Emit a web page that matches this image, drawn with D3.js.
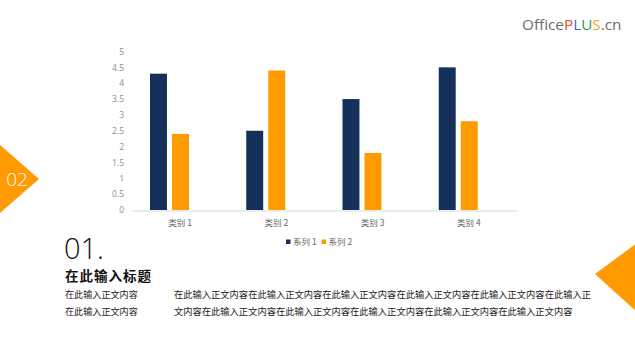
<!DOCTYPE html>
<html><head><meta charset="utf-8">
<script src="https://cdn.jsdelivr.net/npm/d3@7"></script>
<style>
html,body{margin:0;padding:0;background:#fff;}
svg{display:block;}
</style></head>
<body>
<svg id="c" width="635" height="358"></svg>
<script>
const categories = ["类别 1", "类别 2", "类别 3", "类别 4"];
const seriesNames = ["系列 1", "系列 2"];
const series1 = [4.3, 2.5, 3.5, 4.5];
const series2 = [2.4, 4.4, 1.8, 2.8];
const yTicks = [0, 0.5, 1, 1.5, 2, 2.5, 3, 3.5, 4, 4.5, 5];
const colors = ["#15305a", "#ff9a00"];
const bodyLeft = ["在此输入正文内容", "在此输入正文内容"];
const bodyRight = ["在此输入正文内容在此输入正文内容在此输入正文内容在此输入正文内容在此输入正文内容在此输入正",
                   "文内容在此输入正文内容在此输入正文内容在此输入正文内容在此输入正文内容在此输入正文内容"];

const svg = d3.select("#c");
const cjk = "'Noto Sans CJK SC', 'Microsoft YaHei', sans-serif";
const latin = "'Open Sans', 'Noto Sans', sans-serif";

// Decorative triangles
svg.append("polygon").attr("points", "0,145 39,179 0,213").attr("fill", "#ff9a00");
svg.append("text").attr("x", 17).attr("y", 186).attr("text-anchor", "middle")
  .attr("font-family", latin).attr("font-weight", 300).attr("font-size", 19)
  .attr("fill", "#fff").text("02");
svg.append("polygon").attr("points", "595,274 637,243 637,312").attr("fill", "#ff9a00");

// Logo
const logo = svg.append("text").attr("x", 522).attr("y", 30)
  .attr("font-family", latin).attr("font-size", 15.3);
[["Office", "#6d6d6d"], ["P", "#e84a2a"], ["L", "#2e6fd0"], ["U", "#2b9a48"], ["S", "#f7a51e"], [".cn", "#6d6d6d"]]
  .forEach(([t, c]) => logo.append("tspan").attr("fill", c).text(t));

// Chart
const x0 = d3.scaleBand().domain(categories).range([132, 517]).padding(0);
const x1 = d3.scaleBand().domain(d3.range(3)).range([18, 79]).paddingInner(0.23);
const y = d3.scaleLinear().domain([0, 5]).range([210, 51.5]);

const yAxis = svg.append("g").attr("transform", "translate(124,0)")
  .call(d3.axisLeft(y).tickValues(yTicks).tickSize(0).tickPadding(0).tickFormat(d3.format("")));
yAxis.select(".domain").remove();
yAxis.selectAll("text").attr("font-family", latin).attr("font-size", 8.5).attr("fill", "#8c8c8c");

const values = [series1, series2];
const g = svg.append("g");
values.forEach((vals, si) => {
  g.selectAll(".b" + si).data(vals).enter().append("rect")
    .attr("x", (d, i) => x0(categories[i]) + x1(si))
    .attr("width", x1.bandwidth())
    .attr("y", d => y(d))
    .attr("height", d => y(0) - y(d))
    .attr("fill", colors[si]);
});

const xAxis = svg.append("g").attr("transform", "translate(0,210.5)")
  .call(d3.axisBottom(x0).tickSize(0).tickPadding(9));
xAxis.select(".domain").attr("stroke", "#d9d9d9").attr("stroke-width", 1);
xAxis.selectAll("text").attr("font-family", cjk).attr("font-size", 8.5).attr("fill", "#666");

// Legend
const legendX = [286, 321.5];
seriesNames.forEach((n, i) => {
  svg.append("rect").attr("x", legendX[i]).attr("y", 239.5).attr("width", 4.5).attr("height", 4.5).attr("fill", colors[i]);
  svg.append("text").attr("x", legendX[i] + 7).attr("y", 245).attr("font-family", cjk)
    .attr("font-size", 8.5).attr("fill", "#666").text(n);
});

// Text block
svg.append("text").attr("x", 64).attr("y", 259).attr("font-family", latin).attr("font-weight", 300)
  .attr("font-size", 29).attr("fill", "#111").text("01.");
svg.append("text").attr("x", 65).attr("y", 281).attr("font-family", cjk).attr("font-weight", 700)
  .attr("font-size", 13.5).attr("letter-spacing", 1).attr("fill", "#111").text("在此输入标题");
[294, 311].forEach((yy, i) => {
  svg.append("text").attr("x", 65).attr("y", yy + 3.5).attr("font-family", cjk).attr("font-size", 9.1)
    .attr("fill", "#222").text(bodyLeft[i]);
  svg.append("text").attr("x", 174).attr("y", yy + 3.5).attr("font-family", cjk).attr("font-size", 9.27)
    .attr("fill", "#222").text(bodyRight[i]);
});
</script>
</body></html>
